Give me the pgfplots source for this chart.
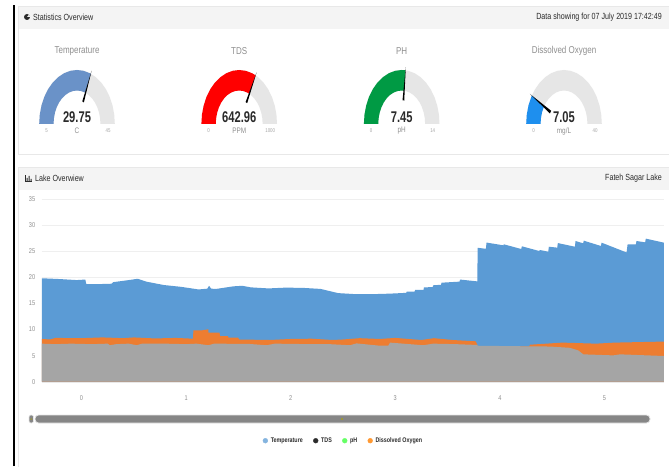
\documentclass[border=0pt]{standalone}
\usepackage{pgfplots}
\pgfplotsset{compat=1.18}
\usepackage{pgfplotstable}
\usepackage{fontspec}
\setmainfont[FakeStretch=0.8]{Liberation Sans}
\definecolor{cblue}{HTML}{5B9BD5}
\definecolor{corange}{HTML}{ED7D31}
\definecolor{cgrey}{HTML}{A5A5A5}
\definecolor{cgaugeA}{HTML}{6A92C8}
\definecolor{cgaugeC}{HTML}{009A44}
\definecolor{cgaugeD}{HTML}{1E8FEE}
\definecolor{panelhead}{HTML}{F4F4F4}
\definecolor{panelline}{HTML}{E8E8E8}
\definecolor{gaugebg}{HTML}{E6E6E6}
\definecolor{softtxt}{HTML}{8F8F8F}
\definecolor{darktxt}{HTML}{2B2B2B}
\pgfplotstableread{
x y
-0.38 19.85
-0.213 19.7
-0.047 19.5
0.037 19.6
0.045 18.75
0.12 18.7
0.287 18.8
0.303 19.1
0.453 19.5
0.537 19.75
0.62 19.2
0.787 18.55
0.953 18.2
1.12 17.7
1.203 17.85
1.22 18.4
1.24 17.85
1.287 17.8
1.453 18.3
1.537 18.4
1.62 18.1
1.787 17.9
1.953 18.05
2.12 18.0
2.287 17.8
2.37 17.4
2.453 17.0
2.62 16.8
2.787 16.8
2.953 16.9
3.105 17.05
3.11 17.3
3.185 17.3
3.19 17.6
3.27 17.6
3.275 18.1
3.358 18.15
3.363 18.5
3.438 18.6
3.443 19.0
3.615 19.2
3.62 19.6
3.785 19.25
3.788 25.7
3.867 25.5
3.873 26.7
4.033 26.17
4.039 26.36
4.205 25.46
4.211 25.98
4.377 25.08
4.383 25.27
4.463 24.95
4.469 25.9
4.549 25.72
4.555 26.6
4.718 25.9
4.724 27.0
4.797 26.55
4.803 27.06
4.967 26.04
4.973 26.68
5.212 24.8
5.222 26.36
5.301 26.36
5.307 27.0
5.39 26.74
5.396 27.45
5.569 26.68
}\temperature
\pgfplotstableread{
x y
-0.38 8.2
-0.3 8.1
-0.25 8.4
0.0 8.35
0.2 8.5
0.4 8.35
0.5 8.5
0.7 8.3
0.9 8.4
1.068 8.25
1.069 9.85
1.15 9.85
1.212 10.05
1.213 9.4
1.32 9.4
1.325 8.75
1.4 8.75
1.405 8.45
1.5 8.45
1.505 8.1
1.8 8.0
2.0 8.2
2.2 8.25
2.4 8.0
2.5 8.1
2.66 8.35
2.85 8.2
3.0 8.4
3.25 8.0
3.37 8.35
3.55 8.0
3.77 7.75
3.79 6.8
4.28 6.8
4.29 7.1
4.6 7.5
4.92 7.3
5.1 7.5
5.569 7.7
}\dissolved
\pgfplotstableread{
x y
-0.38 7.3
-0.25 7.2
-0.1 7.3
0.1 7.2
0.25 7.3
0.272 7.0
0.33 7.2
0.45 7.3
0.528 7.0
0.58 7.3
0.8 7.3
1.0 7.2
1.1 7.3
1.212 7.0
1.27 7.3
1.6 7.25
1.77 7.0
1.85 7.3
2.2 7.2
2.376 7.2
2.567 7.0
2.63 7.35
2.854 6.9
2.934 6.9
2.95 7.5
3.268 7.0
3.364 7.3
3.586 7.2
3.78 7.05
3.79 6.9
4.288 6.78
4.479 6.75
4.67 6.5
4.75 6.0
4.798 5.25
5.085 5.05
5.15 5.25
5.569 4.93
}\phvalue
% #1 left edge x, #2 colour, #3 value arc, #4 needle
\newcommand{\gauge}[4]{%
\begin{axis}[at={(#1pt,342pt)},anchor=south west,scale only axis,width=75.6pt,height=54pt,
  hide axis,xmin=-1,xmax=1,ymin=0,ymax=1,clip=false]
\addplot[data cs=polar,fill=gaugebg,draw=none] coordinates {(180,1)(170,1)(160,1)(150,1)(140,1)(130,1)(120,1)(110,1)(100,1)(90,1)(80,1)(70,1)(60,1)(50,1)(40,1)(30,1)(20,1)(10,1)(0,1)
 (0,.62)(10,.62)(20,.62)(30,.62)(40,.62)(50,.62)(60,.62)(70,.62)(80,.62)(90,.62)(100,.62)(110,.62)(120,.62)(130,.62)(140,.62)(150,.62)(160,.62)(170,.62)(180,.62)} -- cycle;
\addplot[data cs=polar,fill=#2,draw=none] coordinates {#3} -- cycle;
\addplot[data cs=polar,fill=black,draw=none] coordinates {#4} -- cycle;
\end{axis}}
\newcommand{\gaugetext}[6]{%
\node[text=softtxt,font=\fontsize{10}{11}\selectfont] at (#1,415) {#2};
\node[text=darktxt,font=\fontsize{15.5}{16}\bfseries\selectfont] at (#1,349) {\scalebox{.9}[1]{#3}};
\node[text=softtxt,font=\fontsize{8}{9}\selectfont] at (#1,335) {#4};
\node[text=softtxt!80,font=\fontsize{5.5}{6}\selectfont] at ({#1-30.5},335) {#5};
\node[text=softtxt!80,font=\fontsize{5.5}{6}\selectfont] at ({#1+31},335) {#6};}
\begin{document}
\begin{tikzpicture}[x=1pt,y=1pt]
\useasboundingbox (0,0) rectangle (669,466);
\fill[white] (0,0) rectangle (669,466);
% panels
\draw[panelline,line width=1.2pt,fill=white] (18.5,311.5) rectangle (672,459.5);
\fill[panelhead] (19,437) rectangle (669,459);
\draw[panelline,line width=1.2pt] (18.5,-3) -- (18.5,298.5) -- (672,298.5);
\fill[panelhead] (19,276) rectangle (669,298);
\draw[black,line width=2pt] (13.5,0) -- (13.5,461);
% header text
\fill[darktxt] (27,449) circle (3pt);
\fill[panelhead] (27,449) -- (30.2,449) arc (0:50:3.2pt) -- cycle;
\node[anchor=west,inner sep=0pt,text=darktxt,font=\fontsize{8.9}{10}\selectfont] at (33,449) {Statistics Overview};
\node[anchor=east,inner sep=0pt,text=darktxt,font=\fontsize{8.9}{10}\selectfont] at (662,449) {Data showing for 07 July 2019 17:42:49};
\draw[darktxt,line width=.5pt] (25,284.5) -- (25,291) (25,284.5) -- (32,284.5);
\fill[darktxt] (26.5,285) rectangle (27.5,288) (28.5,285) rectangle (29.5,290) (30.5,285) rectangle (31.5,287);
\node[anchor=west,inner sep=0pt,text=darktxt,font=\fontsize{8.9}{10}\selectfont] at (35,288) {Lake Overwiew};
\node[anchor=east,inner sep=0pt,text=darktxt,font=\fontsize{8.9}{10}\selectfont] at (662,288) {Fateh Sagar Lake};
% gauges
\gauge{39.2}{cgaugeA}{(180,1)(170,1)(160,1)(150,1)(140,1)(130,1)(120,1)(110,1)(100,1)(90,1)(80,1)(70,1)(68.6,1)(68.6,.62)(70,.62)(80,.62)(90,.62)(100,.62)(110,.62)(120,.62)(130,.62)(140,.62)(150,.62)(160,.62)(170,.62)(180,.62)}{(65.6,.44)(71.6,.44)(68.6,1.06)}
\gauge{201.4}{red}{(180,1)(170,1)(160,1)(150,1)(140,1)(130,1)(120,1)(110,1)(100,1)(90,1)(80,1)(70,1)(64.3,1)(64.3,.62)(70,.62)(80,.62)(90,.62)(100,.62)(110,.62)(120,.62)(130,.62)(140,.62)(150,.62)(160,.62)(170,.62)(180,.62)}{(61.3,.44)(67.3,.44)(64.3,1.06)}
\gauge{363.9}{cgaugeC}{(180,1)(170,1)(160,1)(150,1)(140,1)(130,1)(120,1)(110,1)(100,1)(90,1)(84.2,1)(84.2,.62)(90,.62)(100,.62)(110,.62)(120,.62)(130,.62)(140,.62)(150,.62)(160,.62)(170,.62)(180,.62)}{(81.2,.44)(87.2,.44)(84.2,1.06)}
\gauge{526.2}{cgaugeD}{(180,1)(170,1)(160,1)(150,1)(148.3,1)(148.3,.62)(150,.62)(160,.62)(170,.62)(180,.62)}{(144.3,.42)(152.3,.42)(148.3,1.06)}
\gaugetext{77}{Temperature}{29.75}{C}{5}{45}
\gaugetext{239.2}{TDS}{642.96}{PPM}{0}{1000}
\gaugetext{401.7}{PH}{7.45}{pH}{0}{14}
\gaugetext{564}{Dissolved Oxygen}{7.05}{mg/L}{0}{40}
% main chart
\begin{axis}[at={(41.7pt,84.3pt)},anchor=south west,scale only axis,width=622.3pt,height=182.4pt,
  xmin=-0.3805,xmax=5.57,ymin=0,ymax=35,
  axis x line*=bottom,axis y line*=left,
  y axis line style={draw=none},x axis line style={draw=panelline,-},
  ytick={0,5,...,35},xtick={0,1,2,3,4,5},
  minor xtick={-0.38,-0.213,-0.047,0.12,0.287,0.453,0.62,0.787,0.953,1.12,1.287,1.453,1.62,1.787,1.953,2.12,2.287,2.453,2.62,2.787,2.953,3.12,3.287,3.453,3.62,3.787,3.953,4.12,4.287,4.453,4.62,4.787,4.953,5.12,5.287,5.453},
  major tick length=0pt,minor tick length=2.5pt,
  minor tick style={draw=panelline},
  ymajorgrids,grid style={draw=panelline!70,line width=.9pt},
  /pgf/number format/assume math mode=true,
  ticklabel style={font=\fontsize{7}{8}\selectfont,text=softtxt},
  xticklabel style={yshift=-10.5pt},
  yticklabel style={xshift=-3pt},
  legend style={at={(0.485,-0.3235)},anchor=center,draw=none,fill=none,legend columns=4,
    font=\fontsize{6.7}{7.5}\bfseries\selectfont,text=darktxt,
    /tikz/every odd column/.append style={column sep=1pt},
    /tikz/every even column/.append style={column sep=8.5pt},inner sep=0pt},
  legend cell align=left]
\addplot[fill=cblue,draw=none,forget plot] table {\temperature} \closedcycle;
\addplot[fill=corange,draw=none,forget plot] table {\dissolved} \closedcycle;
\addplot[fill=cgrey,draw=none,forget plot] table {\phvalue} \closedcycle;
\addlegendimage{only marks,mark=*,mark size=2.4pt,color=cblue!75}
\addlegendentry{Temperature}
\addlegendimage{only marks,mark=*,mark size=2.4pt,color=darktxt}
\addlegendentry{TDS}
\addlegendimage{only marks,mark=*,mark size=2.4pt,color=green!60!white}
\addlegendentry{pH}
\addlegendimage{only marks,mark=*,mark size=2.4pt,color=orange!80!white}
\addlegendentry{Dissolved Oxygen}
\end{axis}
% range slider
\draw[panelline,line width=.8pt,fill=gray!95,rounded corners=3.5pt] (35,43) rectangle (650,51);
\draw[panelline,line width=.6pt,fill=gray!95,rounded corners=2pt] (29,43) rectangle (33.5,51);
\fill[olive!80] (342,47) circle (1.2pt);
\fill[olive!80] (31.2,47) circle (.8pt);
\end{tikzpicture}
\end{document}
